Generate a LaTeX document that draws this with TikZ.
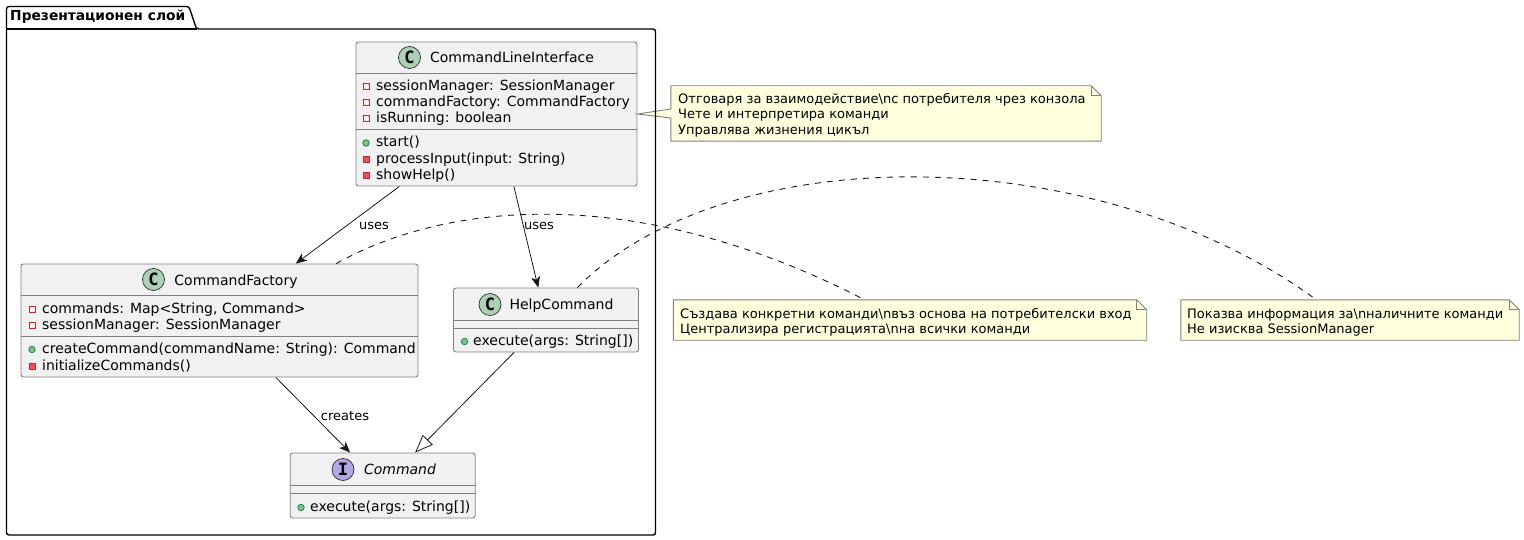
\documentclass[tikz,border=0pt]{standalone}
\usepackage{fontspec}
\setmainfont{DejaVu Sans}
\newfontfamily\spotfont{DejaVu Sans Mono}
\usetikzlibrary{arrows.meta,calc}
\definecolor{linecol}{HTML}{181818}
\definecolor{rulecol}{HTML}{808080}
\definecolor{boxcol}{HTML}{F1F1F1}
\definecolor{notecol}{HTML}{FEFFDD}
\definecolor{classcol}{HTML}{ADD1B2}
\definecolor{ifacecol}{HTML}{B4A7E5}
\definecolor{privcol}{HTML}{C82930}
\definecolor{privfill}{HTML}{F24D5C}
\definecolor{pubcol}{HTML}{038048}
\definecolor{pubfill}{HTML}{84BE84}
\tikzset{
  classbox/.style={rectangle,draw=rulecol,fill=boxcol,line width=0.9pt,rounded corners=2.5pt,inner sep=0},
  rule/.style={draw=rulecol,line width=0.9pt},
  rowtext/.style={anchor=base west,inner sep=0,font=\fontsize{14}{16}\selectfont,text=black},
  nametext/.style={anchor=base,inner sep=0,font=\fontsize{14}{16}\selectfont,text=black},
  notetext/.style={anchor=base west,inner sep=0,font=\fontsize{13}{15}\selectfont,text=black},
  edgelabel/.style={inner sep=0,font=\fontsize{13}{15}\selectfont,text=black},
  spot/.style={circle,draw=linecol,line width=0.6pt,minimum size=22,inner sep=0,font=\spotfont\bfseries\fontsize{17}{17}\selectfont},
  privfield/.style={rectangle,draw=privcol,line width=0.7pt,minimum size=6,inner sep=0},
  privmethod/.style={rectangle,draw=privcol,fill=privfill,line width=0.7pt,minimum size=6,inner sep=0},
  pubmethod/.style={circle,draw=pubcol,fill=pubfill,line width=0.7pt,minimum size=6.5,inner sep=0},
  noteshape/.style={draw=rulecol,fill=notecol,line width=0.9pt},
  link/.style={draw=linecol,line width=0.8pt},
  notelink/.style={draw=linecol,line width=0.9pt,dash pattern=on 6pt off 6pt}
}
\newcommand{\foldnote}[1]{
  \path [noteshape] (#1.south west) -- (#1.south east) -- ($(#1.north east)+(0,10)$) -- ($(#1.north east)+(-10,0)$) -- (#1.north west) -- cycle;
  \path [noteshape,fill=none] ($(#1.north east)+(-10,0)$) -- ($(#1.north east)+(-10,10)$) -- ($(#1.north east)+(0,10)$);
}
\begin{document}
\begin{tikzpicture}[x=1pt,y=-1pt]
  \useasboundingbox (0,0) rectangle (1524,540);

  % class boxes
  \node at (496.5,114) [classbox,minimum width=281,minimum height=144] (cli) {};
  \node at (219.5,320.5) [classbox,minimum width=397,minimum height=113] (factory) {};
  \node at (546,320) [classbox,minimum width=185,minimum height=64] (help) {};
  \node at (382.7,485.5) [classbox,minimum width=185,minimum height=65] (command) {};

  \draw [rule] (cli.west |- 0,73) -- (cli.east |- 0,73);
  \draw [rule] (cli.west |- 0,129) -- (cli.east |- 0,129);
  \draw [rule] (factory.west |- 0,295) -- (factory.east |- 0,295);
  \draw [rule] (factory.west |- 0,336) -- (factory.east |- 0,336);
  \draw [rule] (help.west |- 0,320) -- (help.east |- 0,320);
  \draw [rule] (help.west |- 0,328) -- (help.east |- 0,328);
  \draw [rule] (command.west |- 0,485) -- (command.east |- 0,485);
  \draw [rule] (command.west |- 0,493) -- (command.east |- 0,493);

  % headers
  \node at (409.5,57.5) [spot,fill=classcol] (clispot) {C};
  \node at (512,62.5) [nametext] (cliname) {CommandLineInterface};
  \node at (153.5,279.5) [spot,fill=classcol] (factoryspot) {C};
  \node at (236,285) [nametext] (factoryname) {CommandFactory};
  \node at (490,304.5) [spot,fill=classcol] (helpspot) {C};
  \node at (561.5,309.5) [nametext] (helpname) {HelpCommand};
  \node at (343,469.5) [spot,fill=ifacecol] (commandspot) {I};
  \node at (400,474.5) [nametext,font=\fontsize{14}{16}\selectfont\itshape] (commandname) {Command};

  % members of the interface class
  \node at (366,86) [privfield] (cliicona) {};
  \node at (376,90.5) [rowtext] (clirowa) {sessionManager: SessionManager};
  \node at (366,102) [privfield] (cliiconb) {};
  \node at (376,106.5) [rowtext] (clirowb) {commandFactory: CommandFactory};
  \node at (366,118.5) [privfield] (cliiconc) {};
  \node at (376,123) [rowtext] (clirowc) {isRunning: boolean};
  \node at (366,143) [pubmethod] (cliicond) {};
  \node at (376,147) [rowtext] (clirowd) {start()};
  \node at (366,159) [privmethod] (cliicone) {};
  \node at (376,163.5) [rowtext] (clirowe) {processInput(input: String)};
  \node at (366,175) [privmethod] (cliiconf) {};
  \node at (376,179.5) [rowtext] (clirowf) {showHelp()};

  \node at (32,309.5) [privfield] (factoryicona) {};
  \node at (42,313) [rowtext] (factoryrowa) {commands: Map<String, Command>};
  \node at (32,325) [privfield] (factoryiconb) {};
  \node at (42,329.5) [rowtext] (factoryrowb) {sessionManager: SessionManager};
  \node at (32,349.5) [pubmethod] (factoryiconc) {};
  \node at (42,353.5) [rowtext] (factoryrowc) {createCommand(commandName: String): Command};
  \node at (32,366) [privmethod] (factoryicond) {};
  \node at (42,370) [rowtext] (factoryrowd) {initializeCommands()};

  \node at (464.5,341.5) [pubmethod] (helpicon) {};
  \node at (473,345.5) [rowtext] (helprow) {execute(args: String[])};
  \node at (301,507.5) [pubmethod] (commandicon) {};
  \node at (310,511.5) [rowtext] (commandrow) {execute(args: String[])};

  % notes
  \node at (886,113.5) [minimum width=430,minimum height=55,inner sep=0] (notecli) {};
  \node at (910,320) [minimum width=473,minimum height=40,inner sep=0] (notefactory) {};
  \node at (1350,320) [minimum width=338,minimum height=40,inner sep=0] (notehelp) {};

  \foldnote{notefactory}
  \foldnote{notehelp}
  \path [noteshape] (notecli.south west) -- (notecli.west |- 0,118) -- (cli.east) -- (notecli.west |- 0,109) -- (notecli.north west) -- ($(notecli.north east)+(-10,0)$) -- ($(notecli.north east)+(0,10)$) -- (notecli.south east) -- cycle;
  \path [noteshape,fill=none] ($(notecli.north east)+(-10,0)$) -- ($(notecli.north east)+(-10,10)$) -- ($(notecli.north east)+(0,10)$);

  \node at (678,103.5) [notetext] (noteclia) {Отговаря за взаимодействие\textbackslash nс потребителя чрез конзола};
  \node at (678,119) [notetext] (noteclib) {Чете и интерпретира команди};
  \node at (678,134.5) [notetext] (noteclic) {Управлява жизнения цикъл};
  \node at (680,318) [notetext] (notefactorya) {Създава конкретни команди\textbackslash nвъз основа на потребителски вход};
  \node at (680,333) [notetext] (notefactoryb) {Централизира регистрацията\textbackslash nна всички команди};
  \node at (1187,318) [notetext] (notehelpa) {Показва информация за\textbackslash nналичните команди};
  \node at (1187,333) [notetext] (notehelpb) {Не изисква SessionManager};

  % package frame
  \node at (10,21) [anchor=base west,inner sep=0,font=\fontsize{13.8}{16}\selectfont\bfseries] (packagename) {Презентационен слой};
  \draw [black,line width=1.4pt,rounded corners=2.5pt] (6.5,29) -- (6.5,6.5) -- (189,6.5) -- (196.5,29) -- (655.5,29) -- (655.5,535) -- (6.5,535) -- cycle;
  \draw [black,line width=1.4pt] (6.5,29) -- (196.5,29);

  % connectors
  \draw [link,-{Stealth[length=11pt,width=9pt,inset=3pt]}] (cli) -- (factory);
  \draw [link,-{Stealth[length=11pt,width=9pt,inset=3pt]}] (cli) -- (help);
  \draw [link,-{Stealth[length=11pt,width=9pt,inset=3pt]}] (factory) -- (command);
  \draw [link,-{Triangle[open,length=18pt,width=14pt,fill=white]}] (help) -- (command);

  \node at (374,226) [edgelabel] (usesfactory) {uses};
  \node at (539,226) [edgelabel] (useshelp) {uses};
  \node at (345,416) [edgelabel] (createscommand) {creates};

  \draw [notelink] (factory.26) .. controls (450,200) and (640,184) .. (notefactory.156);
  \draw [notelink] (help.46) .. controls (725,138) and (1095,138) .. (notehelp.149.5);
\end{tikzpicture}
\end{document}
